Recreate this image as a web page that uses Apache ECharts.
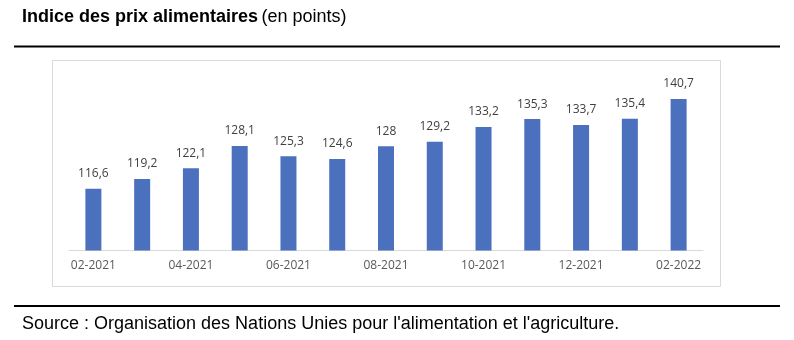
<!DOCTYPE html>
<html><head><meta charset="utf-8">
<script src="https://cdn.jsdelivr.net/npm/echarts@6/dist/echarts.min.js"></script>
<style>html,body{margin:0;padding:0;background:#fff}#c{width:794px;height:340px}</style>
</head><body><div id="c"></div>
<script>
const categories = ['02-2021','03-2021','04-2021','05-2021','06-2021','07-2021','08-2021','09-2021','10-2021','11-2021','12-2021','01-2022','02-2022'];
const values = [116.6,119.2,122.1,128.1,125.3,124.6,128,129.2,133.2,135.3,133.7,135.4,140.7];
const yMin = 100, yMax = 145;

const chart = echarts.init(document.getElementById('c'));
chart.setOption({
  animation:false,
  graphic:[
    {type:'text',left:22,top:8,style:{rich:{
        b:{font:'bold 18px "Liberation Sans", Arial',fill:'#000'},
        n:{font:'normal 18px "Liberation Sans", Arial',fill:'#000'}
      },text:'{b|Indice des prix alimentaires} {n|(en points)}'}},
    {type:'line',shape:{x1:14,y1:46.5,x2:780,y2:46.5},style:{stroke:'#000',lineWidth:2}},
    {type:'rect',shape:{x:52.5,y:60.5,width:668,height:226},style:{fill:'none',stroke:'#d9d9d9',lineWidth:1},z:-1},
    {type:'line',shape:{x1:14,y1:306,x2:780,y2:306},style:{stroke:'#000',lineWidth:2}},
    {type:'text',left:22,top:315,style:{text:"Source : Organisation des Nations Unies pour l'alimentation et l'agriculture.",font:'18px "Liberation Sans", Arial',fill:'#000'}}
  ],
  grid:{left:69,right:91,top:83,bottom:89.5},
  xAxis:{
    type:'category',data:categories,
    axisLine:{lineStyle:{color:'#d9d9d9'}},
    axisTick:{show:false},
    axisLabel:{interval:1,color:'#595959',fontFamily:'Open Sans',fontSize:12,margin:9}
  },
  yAxis:{type:'value',min:yMin,max:yMax,show:false,splitLine:{show:false}},
  series:[{
    type:'bar',data:values,barWidth:16,
    itemStyle:{color:'#4a70be'},
    label:{show:true,position:'top',distance:9,color:'#404040',fontFamily:'Open Sans',fontSize:12,
      formatter:p=>String(p.value).replace('.',',')}
  }]
});
</script></body></html>
